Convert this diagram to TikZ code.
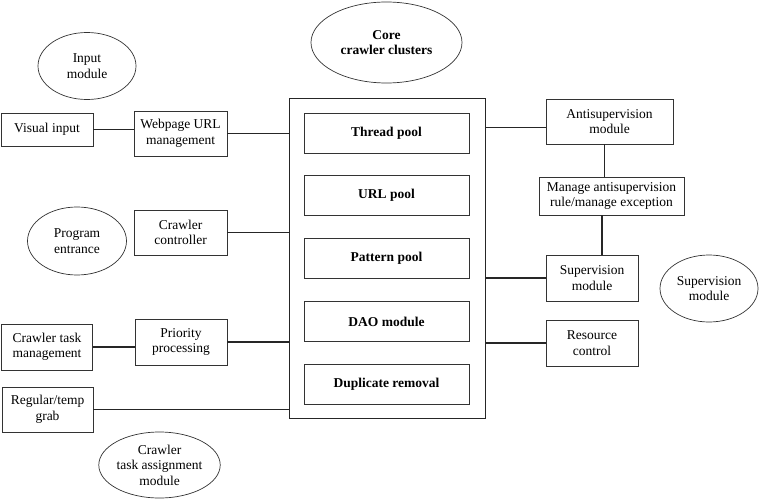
\documentclass[tikz,border=0pt]{standalone}
\usepackage{fontspec}
\setmainfont{Liberation Serif}
\usetikzlibrary{shapes.geometric}

\newcommand{\figsize}{\fontsize{13.5}{15.5}\selectfont}

\tikzset{
  box/.style={draw=black!80,line width=.8pt,align=center,inner sep=0pt},
  corebox/.style={box,font=\figsize\bfseries,minimum width=165,minimum height=40},
  bubble/.style={draw=black!80,line width=.7pt,ellipse,align=center,inner sep=0pt},
  link/.style={line width=1.6pt,black!85}
}

\begin{document}
\begin{tikzpicture}[x=1pt,y=-1pt,font=\figsize]
  \useasboundingbox (0,0) rectangle (759,500);
  % core clusters
  \node[draw=black!85,line width=1pt,minimum width=196,minimum height=319,inner sep=0pt] (core) at (387,258.5) {};
  \foreach \y/\name/\lab in {133/thread/Thread pool,195.5/urlpool/URL pool,258.5/pattern/Pattern pool,321.5/dao/DAO module,384/dup/Duplicate removal}
    \node[corebox] (\name) at (386.5,\y) {\lab};
  \node[bubble,font=\figsize\bfseries,minimum width=151,minimum height=81] (corelbl) at (386.5,42.5) {Core\\crawler clusters};

  % left side
  \node[bubble,minimum width=98,minimum height=67] (inmod) at (87,66) {Input\\module};
  \node[box,minimum width=92,minimum height=33] (visual) at (47,129.5) {Visual input};
  \node[box,minimum width=93,minimum height=45] (webpage) at (180.5,133.5) {Webpage URL\\management};
  \node[bubble,minimum width=99,minimum height=68] (entrance) at (77,241) {Program\\entrance};
  \node[box,minimum width=93,minimum height=45] (ctrl) at (180.5,232.5) {Crawler\\controller};
  \node[box,minimum width=91,minimum height=46] (taskmgmt) at (47,347) {Crawler task\\management};
  \node[box,minimum width=92,minimum height=46] (priority) at (181,342) {Priority\\processing};
  \node[box,minimum width=91,minimum height=45] (grab) at (47.5,409.5) {Regular/temp\\grab};
  \node[bubble,minimum width=115,minimum height=66] (assign) at (159.5,465) {Crawler\\task assignment\\module};

  % right side
  \node[box,minimum width=127,minimum height=45] (anti) at (609.5,121.5) {Antisupervision\\module};
  \node[box,minimum width=145,minimum height=38] (manage) at (611.5,196) {Manage antisupervision\\rule/manage exception};
  \node[box,minimum width=92,minimum height=46] (sup) at (592,278) {Supervision\\module};
  \node[box,minimum width=92,minimum height=46] (res) at (592,343) {Resource\\control};
  \node[bubble,minimum width=98,minimum height=67] (suplbl) at (709,288.5) {Supervision\\module};

  % connectors
  \draw[link] (visual) -- (visual -| webpage.west);
  \draw[link] (taskmgmt) -- (taskmgmt -| priority.west);
  \foreach \n in {webpage,ctrl,priority,grab}
    \draw[link] (\n.east) -- (\n.east -| core.west);
  \draw[link] ([yshift=-6]anti.west) -- ([yshift=-6]anti.west -| core.east);
  \foreach \n in {sup,res}
    \draw[link] (\n.west) -- (\n.west -| core.east);
  \draw[link] ([xshift=-5]anti.south) -- ([xshift=-5]anti.south |- manage.north);
  \draw[link] ([xshift=10]sup.north) -- ([xshift=10]sup.north |- manage.south);
\end{tikzpicture}
\end{document}
